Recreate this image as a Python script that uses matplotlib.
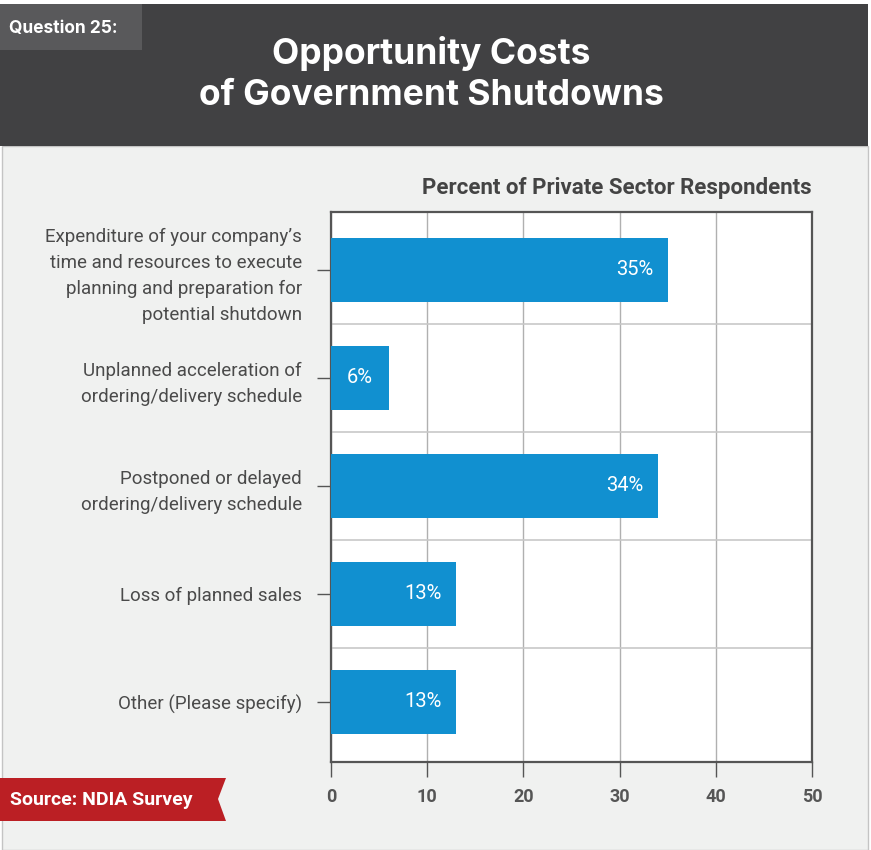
import matplotlib.pyplot as plt
from matplotlib.patches import Rectangle, Polygon


# Survey answers, top to bottom
categories = [
    "Expenditure of your company\u2019s\ntime and resources to execute\nplanning and preparation for\npotential shutdown",
    "Unplanned acceleration of\nordering/delivery schedule",
    "Postponed or delayed\nordering/delivery schedule",
    "Loss of planned sales",
    "Other (Please specify)",
]
percents = [35, 6, 34, 13, 13]
xticks = [0, 10, 20, 30, 40, 50]

BAR = '#1190d0'
DARK = '#414143'
TEXT = '#4a4a4a'
BODY = '#f0f1f0'

plt.rcParams['font.family'] = ['Roboto', 'DejaVu Sans']

W, H = 871, 850
fig = plt.figure(figsize=(W / 100, H / 100), dpi=100)
fig.patch.set_facecolor('white')


def fx(px):
    return px / W


def fy(py):
    return 1 - py / H


# Page body and header band
fig.patches.append(Rectangle((fx(2), 0), fx(866), fy(146), transform=fig.transFigure,
                             facecolor=BODY, edgecolor='#c4c4c4', lw=1, zorder=0))
fig.patches.append(Rectangle((0, fy(146)), fx(868), fy(4) - fy(146),
                             transform=fig.transFigure, facecolor=DARK, lw=0, zorder=0))
fig.patches.append(Rectangle((0, fy(50)), fx(142), fy(4) - fy(50),
                             transform=fig.transFigure, facecolor='#59595b', lw=0, zorder=1))
fig.text(fx(9), fy(28), "Question 25:", color='white', fontsize=12.5, fontweight='bold',
         va='center', ha='left', family=['Inter', 'DejaVu Sans'])
fig.text(fx(431), fy(74), "Opportunity Costs\nof Government Shutdowns", color='white',
         fontsize=25.5, fontweight='bold', ha='center', va='center', linespacing=1.3,
         family=['Inter', 'DejaVu Sans'])

# Source ribbon
ribbon = Polygon([(0, fy(778)), (fx(226), fy(778)), (fx(218), fy(799)),
                  (fx(226), fy(821)), (0, fy(821))], closed=True,
                 transform=fig.transFigure, facecolor='#bb1f24', lw=0, zorder=1)
fig.patches.append(ribbon)
fig.text(fx(10), fy(800), "Source: NDIA Survey", color='white', fontsize=14,
         fontweight='bold', va='center', ha='left')

# Chart
ax = fig.add_axes([fx(331), 1 - 762 / H, fx(812) - fx(331), 550 / H])
ax.set_zorder(5)
ax.set_facecolor('white')
ypos = list(range(len(categories)))
ax.barh(ypos, percents, height=0.6, color=BAR, zorder=3)

for y, v in zip(ypos, percents):
    if v < 10:
        ax.text(v / 2, y, f"{v}%", color='white', fontsize=14.5,
                ha='center', va='center', zorder=4)
    else:
        ax.text(v - 1.5, y, f"{v}%", color='white', fontsize=14.5,
                ha='right', va='center', zorder=4)

ax.set_xlim(0, 50)
ax.set_ylim(4.556, -0.537)
ax.set_xticks(xticks)
ax.set_xticklabels([str(t) for t in xticks], fontsize=13, fontweight='bold', color='#555555')
ax.set_yticks(ypos)
ax.set_yticklabels(categories, fontsize=13.5, color=TEXT, linespacing=1.55)
ax.set_yticks([i + 0.5 for i in ypos[:-1]], minor=True)

ax.tick_params(axis='x', length=11, width=1, color='#555555', pad=8)
ax.tick_params(axis='y', which='major', length=10, width=1, color='#555555', pad=11)
ax.tick_params(axis='y', which='minor', length=0)

ax.grid(axis='x', which='major', color='#b0b0b0', lw=1, zorder=1)
ax.grid(axis='y', which='minor', color='#c8c8c8', lw=1.2, zorder=1)
ax.set_axisbelow(True)
for s in ax.spines.values():
    s.set_color('#555555')
    s.set_linewidth(1.6)

ax.set_title("Percent of Private Sector Respondents", loc='right', fontsize=16,
             fontweight='bold', color='#444444', pad=13)

fig.savefig('out.png', dpi=100, facecolor=fig.get_facecolor())
